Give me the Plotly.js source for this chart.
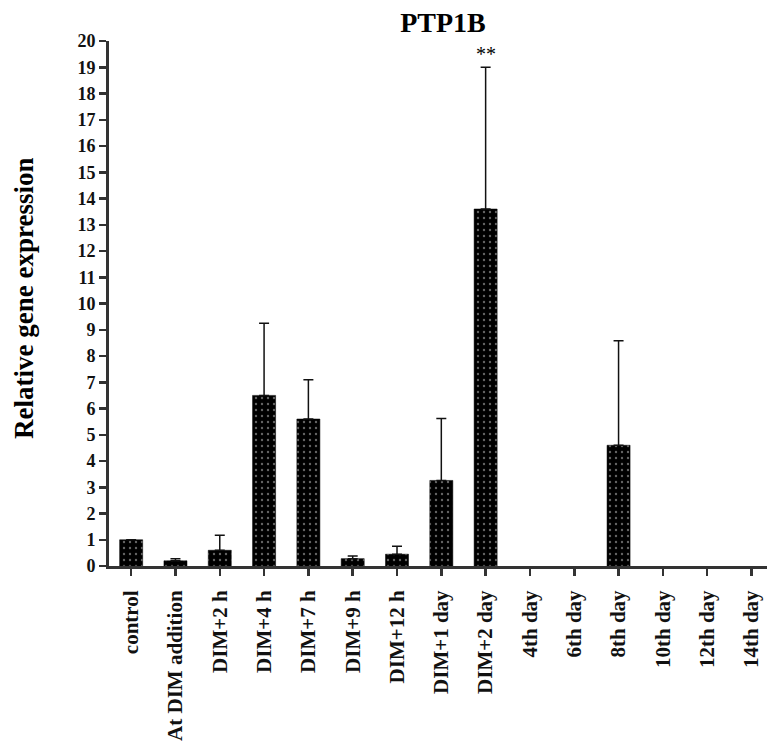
<!DOCTYPE html>
<html>
<head>
<meta charset="utf-8">
<script src="https://cdn.plot.ly/plotly-3.0.1.min.js"></script>
<style>html,body{margin:0;padding:0;background:#fff;}#chart{width:767px;height:745px;}</style>
</head>
<body>
<div id="chart"></div>
<script>
const categories = ["control", "At DIM addition", "DIM+2 h", "DIM+4 h", "DIM+7 h", "DIM+9 h", "DIM+12 h",
  "DIM+1 day", "DIM+2 day", "4th day", "6th day", "8th day", "10th day", "12th day", "14th day"];
const expression = [1.0, 0.2, 0.6, 6.5, 5.6, 0.28, 0.45, 3.26, 13.6, null, null, 4.6, null, null, null];
const errorUp = [0, 0.08, 0.57, 2.75, 1.5, 0.1, 0.3, 2.36, 5.4, null, null, 3.98, null, null, null];
const yTicks = [0,1,2,3,4,5,6,7,8,9,10,11,12,13,14,15,16,17,18,19,20];
const significance = {category: "DIM+2 day", label: "**"};

const serif = "Liberation Serif, Times New Roman, serif";

const trace = {
  type: "bar",
  x: categories,
  y: expression,
  width: 0.52,
  marker: {
    color: "#000",
    line: {color: "#000", width: 0.5},
    pattern: {shape: ".", fillmode: "overlay", bgcolor: "#000", fgcolor: "#c8c8c8", size: 6, solidity: 0.12}
  },
  error_y: {
    type: "data",
    symmetric: false,
    array: errorUp,
    arrayminus: errorUp.map(() => 0),
    color: "#111",
    thickness: 1.5,
    width: 5
  },
  hoverinfo: "x+y"
};

const layout = {
  width: 767,
  height: 745,
  margin: {l: 109, r: 0, t: 41, b: 179},
  paper_bgcolor: "#fff",
  plot_bgcolor: "#fff",
  showlegend: false,
  bargap: 0,
  title: {
    text: "<b>PTP1B</b>",
    font: {family: serif, size: 28, color: "#000"},
    xref: "container", x: 443/767, xanchor: "center",
    yref: "container", y: 1 - 22/745, yanchor: "middle"
  },
  xaxis: {
    type: "category",
    range: [-0.5, 14.35],
    showgrid: false,
    zeroline: false,
    showline: true,
    linecolor: "#333",
    linewidth: 3,
    layer: "above traces",
    ticks: "outside",
    ticklen: 7,
    tickwidth: 2.5,
    tickcolor: "#333",
    tickangle: -90,
    ticklabelstandoff: 6,
    tickfont: {family: serif, size: 21, color: "#111", weight: "bold"},
    fixedrange: true
  },
  yaxis: {
    range: [0, 20],
    tickvals: yTicks,
    ticktext: yTicks.map(String),
    showgrid: false,
    zeroline: false,
    showline: true,
    linecolor: "#333",
    linewidth: 3,
    ticks: "outside",
    ticklen: 7,
    tickwidth: 2.5,
    tickcolor: "#333",
    tickfont: {family: serif, size: 18, color: "#111", weight: "bold"},
    fixedrange: true
  },
  annotations: [
    {
      text: "<b>Relative gene expression</b>",
      xref: "paper", yref: "paper",
      x: (24 - 109) / 658, y: (566 - 299) / 525,
      xanchor: "center", yanchor: "middle",
      textangle: -90,
      showarrow: false,
      font: {family: serif, size: 27, color: "#000"}
    },
    {
      text: significance.label,
      xref: "x", yref: "y",
      x: significance.category, y: 19.5,
      xanchor: "center", yanchor: "middle",
      showarrow: false,
      font: {family: serif, size: 20, color: "#000"}
    }
  ]
};

Plotly.newPlot("chart", [trace], layout, {displayModeBar: false, staticPlot: true});
</script>
</body>
</html>
